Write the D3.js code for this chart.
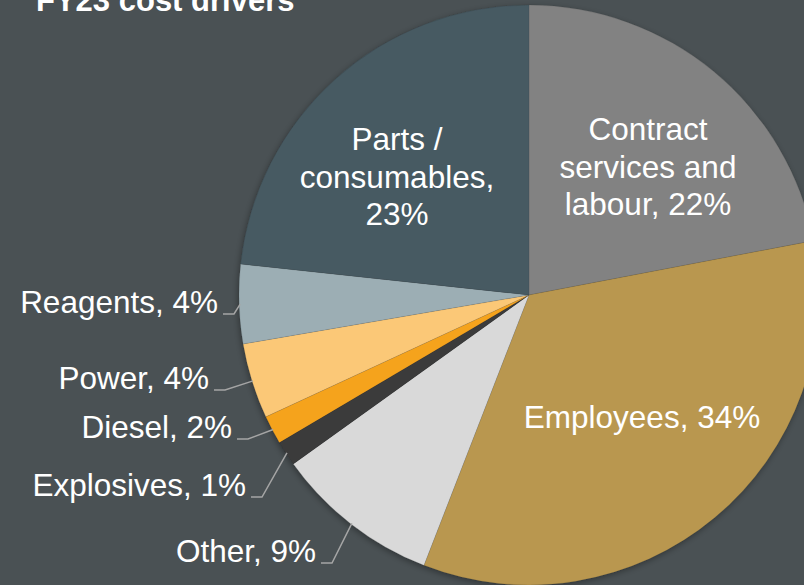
<!DOCTYPE html>
<html>
<head>
<meta charset="utf-8">
<script src="https://cdn.jsdelivr.net/npm/d3@7"></script>
<style>
  html, body { margin: 0; padding: 0; background: #4a5154; }
  svg { display: block; font-family: "Liberation Sans", Arial, sans-serif; }
</style>
</head>
<body>
<div id="chart"></div>
<script>
"use strict";

// data, clockwise from 12 o'clock (shares)
var categories = ["Contract services and labour", "Employees", "Other", "Explosives",
                  "Diesel", "Power", "Reagents", "Parts / consumables"];
var shares = [22.0, 33.9, 9.2, 1.4, 1.6, 4.2, 4.4, 23.3];
var sliceColors = ["#828282", "#b9974f", "#d9d9d9", "#3b3b3b",
                   "#f5a31f", "#fbc877", "#9caeb4", "#475a62"];

// how each label is shown: lines of text inside the slice, or outside with a leader
var insideLines = {
    "Contract services and labour": ["Contract", "services and", "labour, 22%"],
    "Employees": ["Employees, 34%"],
    "Parts / consumables": ["Parts /", "consumables,", "23%"]
};
var outsideText = {
    "Other": "Other, 9%",
    "Explosives": "Explosives, 1%",
    "Diesel": "Diesel, 2%",
    "Power": "Power, 4%",
    "Reagents": "Reagents, 4%"
};

var width = 804, height = 585;
var cx = 529, cy = 295, radius = 290;
var fontSize = 31.5;

var svg = d3.select("#chart").append("svg")
    .attr("width", width)
    .attr("height", height);

var defs = svg.append("defs");
var filter = defs.append("filter").attr("id", "shadow")
    .attr("x", "-20%").attr("y", "-20%").attr("width", "140%").attr("height", "140%");
filter.append("feDropShadow")
    .attr("dx", -1).attr("dy", 2).attr("stdDeviation", 3)
    .attr("flood-color", "#000").attr("flood-opacity", 0.35);

var pie = d3.pie().sort(null).value(function(d) { return d.value; });
var arcs = pie(categories.map(function(c, i) {
    return { name: c, value: shares[i], color: sliceColors[i] };
}));

var arc = d3.arc().innerRadius(0).outerRadius(radius);
var edge = d3.arc().innerRadius(radius - 1).outerRadius(radius - 1);

var g = svg.append("g").attr("transform", "translate(" + cx + "," + cy + ")");

g.append("g").attr("filter", "url(#shadow)")
  .selectAll("path")
  .data(arcs)
  .enter().append("path")
    .attr("d", arc)
    .attr("fill", function(d) { return d.data.color; })
    .attr("stroke", "rgba(0,0,0,0.12)")
    .attr("stroke-width", 0.6);

// inside labels: centre x and first baseline, relative to pie centre
var insidePos = {
    "Contract services and labour": [119, -155],
    "Employees": [113, 133],
    "Parts / consumables": [-132, -145]
};
var lineH = 37.5;
arcs.filter(function(d) { return insideLines[d.data.name]; }).forEach(function(d) {
    var lines = insideLines[d.data.name];
    var p = insidePos[d.data.name];
    var t = g.append("text")
        .attr("text-anchor", "middle")
        .attr("fill", "#ffffff")
        .attr("font-size", fontSize);
    lines.forEach(function(s, i) {
        t.append("tspan")
            .attr("x", p[0])
            .attr("y", p[1] + i * lineH)
            .text(s);
    });
});

// outside labels: right end of text and baseline (page coords)
var outsidePos = {
    "Reagents": [218, 313],
    "Power": [209, 389],
    "Diesel": [232, 438],
    "Explosives": [246, 496],
    "Other": [316, 562]
};
arcs.filter(function(d) { return outsideText[d.data.name]; }).forEach(function(d) {
    var p = outsidePos[d.data.name];
    var c = edge.centroid(d);
    var lx = p[0] - cx, ly = p[1] - cy;
    g.append("polyline")
        .attr("points", [[lx + 5, ly + 1], [lx + 16, ly + 1], c].join(" "))
        .attr("fill", "none")
        .attr("stroke", "#a5a5a5")
        .attr("stroke-width", 1.5);
    g.append("text")
        .attr("x", lx)
        .attr("y", ly)
        .attr("text-anchor", "end")
        .attr("fill", "#ffffff")
        .attr("font-size", fontSize)
        .text(outsideText[d.data.name]);
});

svg.append("text")
    .attr("x", 36)
    .attr("y", 11)
    .attr("fill", "#ffffff")
    .attr("font-size", 31)
    .attr("font-weight", "bold")
    .text("FY23 cost drivers");
</script>
</body>
</html>
